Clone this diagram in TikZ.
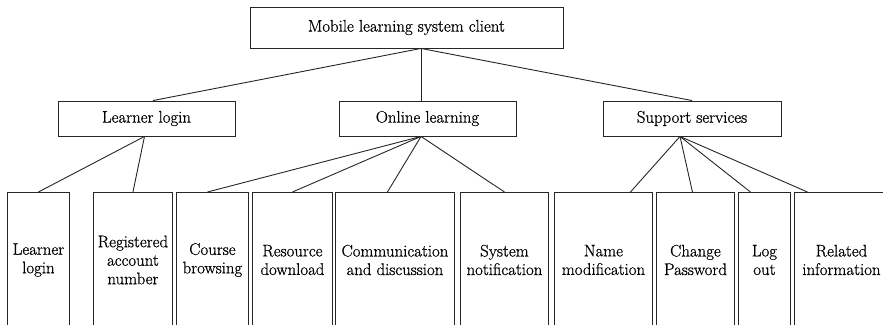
\documentclass[tikz,border=0pt]{standalone}
\usepackage{fontspec}
\newfontfamily\labelfont{Latin Modern Roman}[FakeBold=0.7]
\begin{document}
\begin{tikzpicture}[x=1pt,y=-1pt,
  box/.style={draw=black!85, line width=0.9pt, inner sep=0pt, align=center,
              font=\labelfont\fontsize{16.8}{18.5}\selectfont},
  leaf/.style={box, anchor=north west, minimum height=135},
  link/.style={draw=black!85, line width=0.9pt}]
\path[use as bounding box, clip] (0,0) rectangle (883,324);

% root
\node[box, minimum width=313, minimum height=41] (root) at (406.5,27.5) {Mobile learning system client};

% second level
\node[box, minimum width=177, minimum height=35] (login)   at (146.5,118.5) {Learner login};
\node[box, minimum width=177, minimum height=35] (online)  at (427.5,118.5) {Online learning};
\node[box, minimum width=178, minimum height=35] (support) at (692,118.5)   {Support services};

% leaves (open towards the bottom edge)
\node[leaf, minimum width=62]  (l1)  at (7,192)   {Learner\\login};
\node[leaf, minimum width=79]  (l2)  at (93,192)  {Registered\\account\\number};
\node[leaf, minimum width=72]  (l3)  at (176,192) {Course\\browsing};
\node[leaf, minimum width=80]  (l4)  at (252,192) {Resource\\download};
\node[leaf, minimum width=119] (l5)  at (335,192) {Communication\\and discussion};
\node[leaf, minimum width=88]  (l6)  at (460,192) {System\\notification};
\node[leaf, minimum width=98]  (l7)  at (554,192) {Name\\modification};
\node[leaf, minimum width=78]  (l8)  at (656,192) {Change\\Password};
\node[leaf, minimum width=52]  (l9)  at (738,192) {Log\\out};
\node[leaf, minimum width=94]  (l10) at (794,192) {Related\\information};

% root to second level
\draw[link] ([xshift=14.5]root.south) -- ([xshift=6.5]login.north);
\draw[link] ([xshift=14.5]root.south) -- ([xshift=-6.5]online.north);
\draw[link] ([xshift=14.5]root.south) -- (support.north);

% learner login branch
\draw[link] ([xshift=-2]login.south) -- (l1.north);
\draw[link] ([xshift=-2]login.south) -- (l2.north);

% online learning branch
\draw[link] ([xshift=-6.5]online.south) -- ([xshift=-5]l3.north);
\draw[link] ([xshift=-6.5]online.south) -- (l4.north);
\draw[link] ([xshift=-6.5]online.south) -- ([xshift=-7.5]l5.north);
\draw[link] ([xshift=-6.5]online.south) -- (l6.north);

% support services branch
\draw[link] ([xshift=-12]support.south) -- ([xshift=27]l7.north);
\draw[link] ([xshift=-12]support.south) -- ([xshift=-3]l8.north);
\draw[link] ([xshift=-12]support.south) -- ([xshift=-14]l9.north);
\draw[link] ([xshift=-12]support.south) -- ([xshift=-34]l10.north);
\end{tikzpicture}
\end{document}
